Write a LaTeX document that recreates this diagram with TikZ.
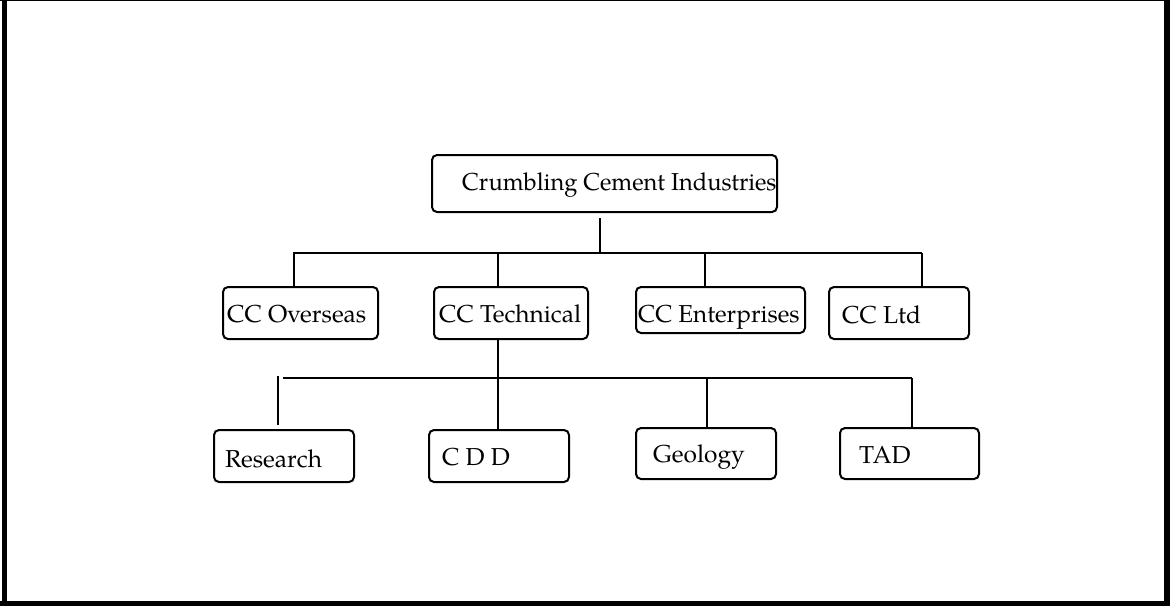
\documentclass[tikz,border=0pt]{standalone}
\usepackage{fontspec}
\setmainfont{texgyrepagella-regular.otf}
\begin{document}
\begin{tikzpicture}[x=1pt,y=-1pt,
  box/.style={draw,line width=2pt,rounded corners=5pt,inner sep=0pt},
  lbl/.style={anchor=base west,inner sep=0pt,font=\fontsize{24.5}{29}\selectfont},
  conn/.style={line width=2pt}]
\useasboundingbox (0,0) rectangle (1170,606);
% frame
\draw[line width=1pt] (0,0.5) -- (1170,0.5);
\draw[line width=4.5pt] (4.25,0) -- (4.25,606);
\draw[line width=6pt] (1167,0) -- (1167,606);
\draw[line width=5.5pt] (0,603.25) -- (1170,603.25);
% boxes
\node[box,minimum width=345,minimum height=57] (top) at (604.5,183.5) {};
\node[box,minimum width=155,minimum height=52] (ov) at (300.5,313) {};
\node[box,minimum width=154,minimum height=52] (te) at (511,313) {};
\node[box,minimum width=169,minimum height=46] (en) at (720.5,310) {};
\node[box,minimum width=140,minimum height=52] (lt) at (899,313) {};
\node[box,minimum width=140,minimum height=52] (re) at (284,456) {};
\node[box,minimum width=140,minimum height=52] (cd) at (499,456) {};
\node[box,minimum width=140,minimum height=51] (ge) at (706,453.5) {};
\node[box,minimum width=139,minimum height=51] (ta) at (909.5,453.5) {};
% labels
\node[lbl] (ttop) at (462,190) {\scalebox{0.966}[1]{Crumbling Cement Industries}};
\node[lbl] (tov) at (227,322) {CC Overseas};
\node[lbl] (tte) at (439,322) {CC Technical};
\node[lbl] (ten) at (638,322) {\scalebox{0.985}[1]{CC Enterprises}};
\node[lbl] (tlt) at (842,323) {CC Ltd};
\node[lbl] (tre) at (225,467) {Research};
\node[lbl] (tcd) at (442,465) {C D D};
\node[lbl] (tge) at (653,462) {Geology};
\node[lbl] (tta) at (859,463) {TAD};
% bus coordinates
\coordinate (t1) at (600,218);
\coordinate (j1) at (600,253);
\coordinate (b1L) at (293,253);
\coordinate (b1R) at (922,253);
\coordinate (b1ov) at (294,253);
\coordinate (b1te) at (498,253);
\coordinate (b1en) at (705,253);
\coordinate (b1lt) at (922,253);
\coordinate (b2L) at (283,378);
\coordinate (b2R) at (912,378);
\coordinate (b2re) at (278,376);
\coordinate (b2cd) at (498,378);
\coordinate (b2ge) at (707,378);
\coordinate (b2ta) at (912,378);
% connectors
\draw[conn] (t1) -- (j1);
\draw[conn] (b1L) -- (b1R);
\draw[conn] (b1ov) -- (b1ov |- ov.north);
\draw[conn] (b1te) -- (b1te |- te.north);
\draw[conn] (b1en) -- (b1en |- en.north);
\draw[conn] (b1lt) -- (b1lt |- lt.north);
\draw[conn] (b2L) -- (b2R);
\draw[conn] (b2cd |- te.south) -- (b2cd |- cd.north);
\draw[conn,shorten >=4pt] (b2re) -- (b2re |- re.north);
\draw[conn] (b2ge) -- (b2ge |- ge.north);
\draw[conn] (b2ta) -- (b2ta |- ta.north);
\end{tikzpicture}
\end{document}
